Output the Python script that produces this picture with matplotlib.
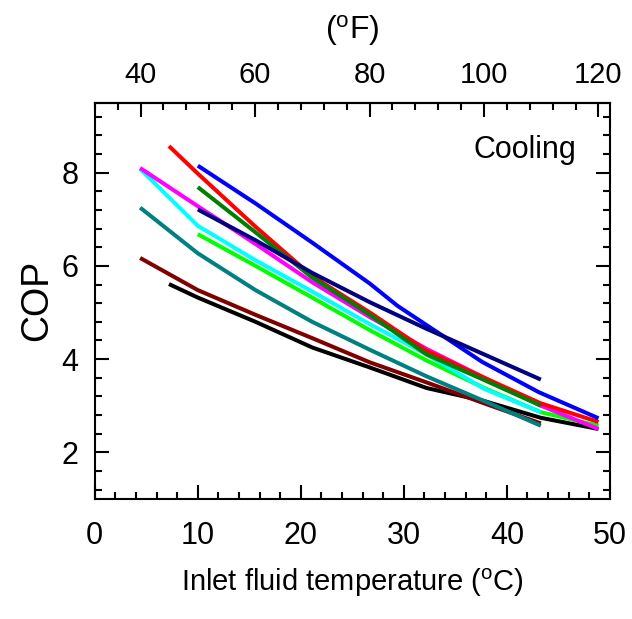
import matplotlib
matplotlib.use("Agg")
import matplotlib.pyplot as plt
from matplotlib.ticker import MultipleLocator

plt.rcParams['font.family'] = ['Liberation Sans', 'DejaVu Sans']
plt.rcParams['mathtext.fontset'] = 'custom'
plt.rcParams['mathtext.rm'] = 'Liberation Sans'
plt.rcParams['mathtext.it'] = 'Liberation Sans'

# inlet fluid temperature (C) and COP, one pair per curve
t_black = [7.2, 10, 15.6, 21.1, 26.7, 32.2, 37.8, 43.3, 48.9]
cop_black = [5.61, 5.32, 4.8, 4.25, 3.82, 3.38, 3.1, 2.74, 2.5]

t_maroon = [4.4, 10, 15.6, 21.1, 26.7, 32.2, 37.8, 43.3]
cop_maroon = [6.17, 5.48, 4.95, 4.45, 3.93, 3.5, 3.05, 2.62]

t_teal = [4.4, 10, 15.6, 21.1, 26.7, 32.2, 37.8, 43.3]
cop_teal = [7.25, 6.27, 5.48, 4.8, 4.2, 3.63, 3.1, 2.57]

t_lime = [10, 15.6, 21.1, 26.7, 32.2, 37.8, 43.3, 48.9]
cop_lime = [6.68, 6.0, 5.32, 4.62, 3.97, 3.38, 2.86, 2.57]

t_cyan = [4.4, 10, 15.6, 21.1, 26.7, 32.2, 37.8, 43.3]
cop_cyan = [8.08, 6.86, 6.12, 5.45, 4.75, 4.1, 3.36, 2.86]

t_magenta = [4.4, 10, 15.6, 21.1, 26.7, 32.2, 37.8, 43.3, 48.9]
cop_magenta = [8.1, 7.28, 6.47, 5.65, 4.9, 4.22, 3.6, 3.0, 2.5]

t_red = [7.2, 10, 15.6, 21.1, 26.7, 32.2, 37.8, 43.3, 48.9]
cop_red = [8.57, 7.98, 6.84, 5.78, 5.0, 4.18, 3.6, 3.05, 2.65]

t_green = [10, 15.6, 21.1, 26.7, 32.2, 37.8, 43.3]
cop_green = [7.69, 6.72, 5.75, 4.95, 4.1, 3.55, 3.0]

t_blue = [10, 15.6, 21.1, 26.7, 29.4, 37.6, 43.1, 48.9]
cop_blue = [8.15, 7.34, 6.5, 5.62, 5.14, 3.94, 3.29, 2.73]

t_navy = [10, 15.6, 21.1, 26.7, 32.2, 37.8, 43.3]
cop_navy = [7.21, 6.55, 5.85, 5.22, 4.65, 4.1, 3.56]

curves = [
    (t_black, cop_black, 'black'),
    (t_maroon, cop_maroon, '#800000'),
    (t_teal, cop_teal, '#008080'),
    (t_lime, cop_lime, '#00ff00'),
    (t_cyan, cop_cyan, '#00ffff'),
    (t_magenta, cop_magenta, '#ff00ff'),
    (t_red, cop_red, '#ff0000'),
    (t_green, cop_green, '#008000'),
    (t_blue, cop_blue, '#0000ff'),
    (t_navy, cop_navy, '#000080'),
]

fig = plt.figure(figsize=(6.32, 6.19), dpi=100)
ax = fig.add_axes([0.150, 0.194, 0.815, 0.640])

for t, cop, c in curves:
    ax.plot(t, cop, color=c, lw=2.9, solid_capstyle='butt')

ax.set_xlim(0, 50)
ax.set_ylim(1, 9.5)
ax.xaxis.set_major_locator(MultipleLocator(10))
ax.xaxis.set_minor_locator(MultipleLocator(2))
ax.yaxis.set_major_locator(MultipleLocator(2))
ax.yaxis.set_minor_locator(MultipleLocator(0.4))
ax.tick_params(which='both', direction='in', top=False, right=True,
               width=1.5, labelsize=22)
ax.tick_params(which='major', length=10)
ax.tick_params(which='minor', length=5)
ax.tick_params(axis='x', which='major', pad=16)
ax.tick_params(axis='y', which='major', pad=12)
for s in ax.spines.values():
    s.set_linewidth(1.5)

ax.set_xlabel(r'Inlet fluid temperature ($^{\rm o}$C)', fontsize=21, labelpad=11)
ax.set_ylabel('COP', fontsize=27, labelpad=4)

top = ax.secondary_xaxis('top', functions=(lambda c: c * 9 / 5 + 32,
                                           lambda f: (f - 32) * 5 / 9))
top.xaxis.set_major_locator(MultipleLocator(20))
top.xaxis.set_minor_locator(MultipleLocator(4))
top.tick_params(which='both', direction='in', width=1.5, labelsize=21)
top.tick_params(which='major', length=10, pad=10)
top.tick_params(which='minor', length=5)
top.spines['top'].set_linewidth(1.5)
top.set_xlabel(r'($^{\rm o}$F)', fontsize=23, labelpad=16)

ax.text(46.7, 8.49, 'Cooling', fontsize=22, ha='right', va='center')

fig.savefig('out.png', dpi=100)
